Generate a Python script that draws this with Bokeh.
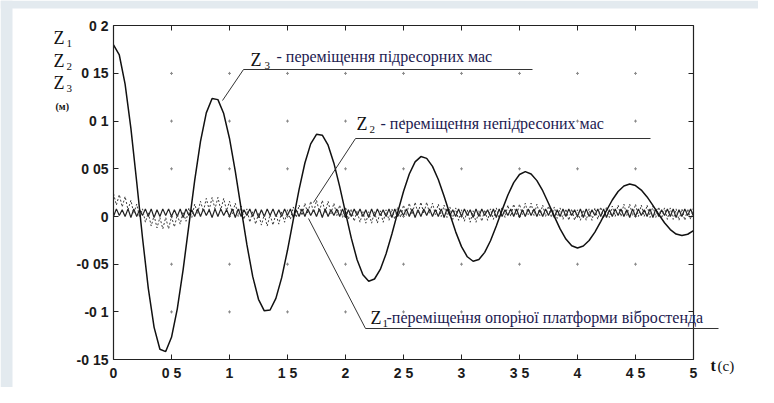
import numpy as np
from bokeh.plotting import figure
from bokeh.models import Range1d, LinearAxis, FixedTicker, Label, Arrow, BoxAnnotation
from bokeh.embed import file_html
from bokeh.resources import INLINE

# ---------------- data ----------------
# Z3 : sprung mass displacement, sampled every 0.05 s (0 .. 5 s)
t3 = [round(0.05 * i, 2) for i in range(101)]
z3 = [
    0.1800, 0.1693, 0.1388, 0.0924, 0.0362, -0.0223, -0.0753, -0.1162, -0.1391, -0.1416,
    -0.1266, -0.0968, -0.0559, -0.0090, 0.0379, 0.0788, 0.1086, 0.1236, 0.1225, 0.1079,
    0.0818, 0.0473, 0.0086, -0.0296, -0.0628, -0.0868, -0.0989, -0.0980, -0.0858, -0.0641,
    -0.0354, -0.0032, 0.0285, 0.0561, 0.0761, 0.0861, 0.0852, 0.0747, 0.0559, 0.0313,
    0.0040, -0.0227, -0.0453, -0.0610, -0.0678, -0.0655, -0.0555, -0.0391, -0.0183, 0.0043,
    0.0262, 0.0446, 0.0573, 0.0628, 0.0609, 0.0525, 0.0388, 0.0213, 0.0023, -0.0161,
    -0.0316, -0.0422, -0.0469, -0.0451, -0.0376, -0.0254, -0.0100, 0.0067, 0.0225, 0.0355,
    0.0440, 0.0470, 0.0446, 0.0376, 0.0270, 0.0139, 0.0001, -0.0130, -0.0236, -0.0306,
    -0.0330, -0.0310, -0.0252, -0.0163, -0.0053, 0.0063, 0.0173, 0.0262, 0.0320, 0.0340,
    0.0324, 0.0277, 0.0205, 0.0117, 0.0023, -0.0065, -0.0137, -0.0184, -0.0200, -0.0186,
    -0.0147,
]

# Z1 and Z2 : fast oscillations, sampled every 0.025 s (peaks / troughs)
t12 = [round(0.025 * i, 3) for i in range(201)]
z1 = [
    0.000, 0.008, 0.001, 0.007, 0.000, 0.008, -0.001, 0.008, 0.000, 0.007,
    0.001, 0.008, 0.000, 0.008, -0.001, 0.007, 0.000, 0.008, 0.001, 0.008,
    0.000, 0.007, 0.000, 0.008, -0.001, 0.008, 0.001, 0.007, 0.000, 0.008,
    0.000, 0.008, 0.001, 0.007, -0.001, 0.008, 0.000, 0.008, 0.001, 0.007,
    0.000, 0.008, -0.001, 0.008, 0.000, 0.007, 0.001, 0.008, 0.000, 0.008,
    -0.001, 0.007, 0.000, 0.008, 0.001, 0.008, 0.000, 0.007, 0.000, 0.008,
    0.001, 0.008, -0.001, 0.007, 0.000, 0.008, 0.000, 0.008, 0.001, 0.007,
    0.000, 0.008, -0.001, 0.008, 0.000, 0.007, 0.001, 0.008, 0.000, 0.008,
    -0.001, 0.007, 0.000, 0.008, 0.001, 0.008, 0.000, 0.007, -0.001, 0.008,
    0.000, 0.008, 0.001, 0.007, 0.000, 0.008, -0.001, 0.008, 0.000, 0.007,
    0.001, 0.008, 0.000, 0.008, -0.001, 0.007, 0.000, 0.008, 0.001, 0.008,
    0.000, 0.007, 0.000, 0.008, -0.001, 0.008, 0.001, 0.007, 0.000, 0.008,
    0.000, 0.008, 0.001, 0.007, -0.001, 0.008, 0.000, 0.008, 0.001, 0.007,
    0.000, 0.008, -0.001, 0.008, 0.000, 0.007, 0.001, 0.008, 0.000, 0.008,
    -0.001, 0.007, 0.000, 0.008, 0.001, 0.008, 0.000, 0.007, 0.000, 0.008,
    0.001, 0.008, -0.001, 0.007, 0.000, 0.008, 0.000, 0.008, 0.001, 0.007,
    0.000, 0.008, -0.001, 0.008, 0.000, 0.007, 0.001, 0.008, 0.000, 0.008,
    -0.001, 0.007, 0.000, 0.008, 0.001, 0.008, 0.000, 0.007, -0.001, 0.008,
    0.000, 0.008, 0.001, 0.007, 0.000, 0.008, -0.001, 0.008, 0.000, 0.007,
    0.001, 0.008, 0.000, 0.008, -0.001, 0.007, 0.000, 0.008, 0.001, 0.008,
    0.000,
]
z2 = [
    0.024, 0.012, 0.023, 0.010, 0.021, 0.007, 0.017, 0.003, 0.013, -0.001,
    0.008, -0.006, 0.004, -0.010, 0.001, -0.012, -0.001, -0.013, -0.001, -0.013,
    0.000, -0.011, 0.002, -0.008, 0.005, -0.005, 0.009, -0.001, 0.013, 0.003,
    0.016, 0.005, 0.019, 0.007, 0.020, 0.008, 0.020, 0.007, 0.019, 0.006,
    0.016, 0.003, 0.014, 0.000, 0.011, -0.003, 0.008, -0.006, 0.005, -0.008,
    0.003, -0.009, 0.002, -0.010, 0.002, -0.009, 0.003, -0.008, 0.005, -0.006,
    0.007, -0.003, 0.010, -0.001, 0.012, 0.001, 0.014, 0.003, 0.016, 0.004,
    0.017, 0.005, 0.017, 0.004, 0.016, 0.003, 0.014, 0.001, 0.012, -0.001,
    0.010, -0.003, 0.008, -0.005, 0.006, -0.006, 0.005, -0.007, 0.005, -0.007,
    0.005, -0.007, 0.006, -0.006, 0.007, -0.004, 0.008, -0.003, 0.010, -0.001,
    0.012, 0.001, 0.014, 0.002, 0.015, 0.003, 0.015, 0.003, 0.015, 0.003,
    0.014, 0.002, 0.013, 0.000, 0.012, -0.001, 0.010, -0.003, 0.009, -0.004,
    0.007, -0.005, 0.007, -0.006, 0.006, -0.006, 0.006, -0.005, 0.007, -0.004,
    0.008, -0.003, 0.009, -0.002, 0.010, -0.001, 0.012, 0.000, 0.013, 0.001,
    0.013, 0.002, 0.014, 0.002, 0.014, 0.001, 0.013, 0.001, 0.012, 0.000,
    0.011, -0.001, 0.010, -0.002, 0.009, -0.003, 0.008, -0.004, 0.008, -0.004,
    0.007, -0.004, 0.007, -0.004, 0.008, -0.004, 0.009, -0.003, 0.010, -0.002,
    0.010, -0.001, 0.011, 0.000, 0.012, 0.000, 0.013, 0.001, 0.013, 0.001,
    0.013, 0.000, 0.012, 0.000, 0.012, -0.001, 0.011, -0.001, 0.010, -0.002,
    0.009, -0.003, 0.009, -0.003, 0.008, -0.004, 0.008, -0.004, 0.008, -0.003,
    0.009,
]

# tick values and their labels (decimal points are lost in the scan)
x_ticks = [0, 0.5, 1, 1.5, 2, 2.5, 3, 3.5, 4, 4.5, 5]
x_tick_labels = ["0", "0 5", "1", "1 5", "2", "2 5", "3", "3 5", "4", "4 5", "5"]
y_ticks = [-0.15, -0.1, -0.05, 0, 0.05, 0.1, 0.15, 0.2]
y_tick_labels = ["-0 15", "-0 1", "-0 05", "0", "0 05", "0 1", "0 15", "0 2"]

# ---------------- layout helpers (pixel -> data, for annotation placement) ----
W, H = 758, 387
PX0, PX_PER_T = 113.0, 116.0      # pixel of t = 0, pixels per second
PY0, PY_PER_U = 216.0, 954.0      # pixel of z = 0, pixels per metre


def X(px):
    return (px - PX0) / PX_PER_T


def Y(py):
    return (PY0 - py) / PY_PER_U


p = figure(width=W, height=H, output_backend="svg", toolbar_location=None,
           title=None, x_range=Range1d(X(0), X(W)), y_range=Range1d(Y(H), Y(0)),
           min_border=0)
p.min_border_left = 0
p.min_border_right = 0
p.min_border_top = 0
p.min_border_bottom = 0
p.background_fill_color = "white"
p.border_fill_color = "white"
p.outline_line_color = None
p.grid.visible = False

AX = "#222222"
LBL_FONT = "Liberation Sans"
x_lo, x_hi = x_ticks[0], x_ticks[-1]
y_lo, y_hi = y_ticks[0], y_ticks[-1]


def style_axis(ax, ticks, labels, show, loc, bounds):
    ax.fixed_location = loc
    ax.bounds = bounds
    ax.ticker = FixedTicker(ticks=ticks, minor_ticks=[])
    ax.major_tick_in = 5
    ax.major_tick_out = 0
    ax.minor_tick_in = 0
    ax.minor_tick_out = 0
    ax.axis_line_color = AX
    ax.major_tick_line_color = AX
    ax.axis_line_width = 1.2
    ax.major_label_overrides = {t: l for t, l in zip(ticks, labels)}
    if show:
        ax.major_label_text_font = LBL_FONT
        ax.major_label_text_font_style = "bold"
        ax.major_label_text_font_size = "14px"
        ax.major_label_text_color = "#1a1a1a"
        ax.major_label_standoff = 5
    else:
        ax.major_label_text_font_size = "1px"
        ax.major_label_standoff = 0


style_axis(p.xaxis[0], x_ticks, x_tick_labels, True, y_lo, (x_lo, x_hi))
style_axis(p.yaxis[0], y_ticks, y_tick_labels, True, x_lo, (y_lo, y_hi))
top_ax = LinearAxis()
right_ax = LinearAxis()
style_axis(top_ax, x_ticks, [""] * len(x_ticks), False, y_hi, (x_lo, x_hi))
style_axis(right_ax, y_ticks, [""] * len(y_ticks), False, x_hi, (y_lo, y_hi))
p.add_layout(top_ax, "above")
p.add_layout(right_ax, "right")

# scanned page background strips (left and top edges)
p.add_layout(BoxAnnotation(right=X(12), fill_color="#e3eaef", fill_alpha=1,
                           line_alpha=0, level="underlay"))
p.add_layout(BoxAnnotation(bottom=Y(8), fill_color="#e3eaef", fill_alpha=1,
                           line_alpha=0, level="underlay"))

# faint grid marks at the tick crossings
gx, gy = [], []
for xv in x_ticks[1:-1]:
    for yv in y_ticks[1:-1]:
        gx.append(xv)
        gy.append(yv)
p.scatter(gx, gy, marker="cross", size=3, line_color="#8a8a8a", line_width=1)

# curves
p.line(t12, z1, line_color="#222222", line_width=1.2)
p.line(t12, z2, line_color="#3a3a3a", line_width=1, line_dash="2 2")
p.line(t3, z3, line_color="#111111", line_width=1.5)

# ---------------- annotations ----------------
SERIF = "Liberation Serif"
TXT = "#1c2050"


def lab(px, py, text, size, color="#111111", font=SERIF, style="normal"):
    p.add_layout(Label(x=X(px), y=Y(py), text=text, text_font=font,
                       text_font_size=size, text_color=color,
                       text_font_style=style, text_baseline="middle",
                       text_align="left"))


def seg(px0, py0, px1, py1):
    p.add_layout(Arrow(start=None, end=None, x_start=X(px0), y_start=Y(py0),
                       x_end=X(px1), y_end=Y(py1), line_color="#333333",
                       line_width=1))


# y-axis title stack
lab(53, 37, "Z", "18px")
lab(66, 43, "1", "11px")
lab(53, 60, "Z", "18px")
lab(66, 66, "2", "11px")
lab(53, 82, "Z", "18px")
lab(66, 88, "3", "11px")
lab(55, 106, "(м)", "10px", style="bold")

# x-axis title
lab(710, 365, "t", "16px", style="bold")
lab(717, 365, "(c)", "15px")

# Z3 annotation
seg(243, 69, 532, 69)
seg(243, 69, 222, 100)
lab(250, 59, "Z", "18px")
lab(264, 65, "3", "11px")
lab(276, 56, "- переміщення підресорних мас", "16px", color=TXT)

# Z2 annotation
seg(355, 138, 650, 138)
seg(355, 138, 313, 202)
lab(356, 123, "Z", "18px")
lab(369, 129, "2", "11px")
lab(380, 123, "- переміщення непідресоних мас", "16px", color=TXT)

# Z1 annotation
seg(365, 328, 718, 328)
seg(365, 328, 308, 218)
lab(370, 317, "Z", "18px")
lab(382, 323, "1", "11px")
lab(386, 317, "-переміщення опорної платформи вібростенда", "16px", color=TXT)

open("out.html", "w").write(file_html(p, INLINE))
